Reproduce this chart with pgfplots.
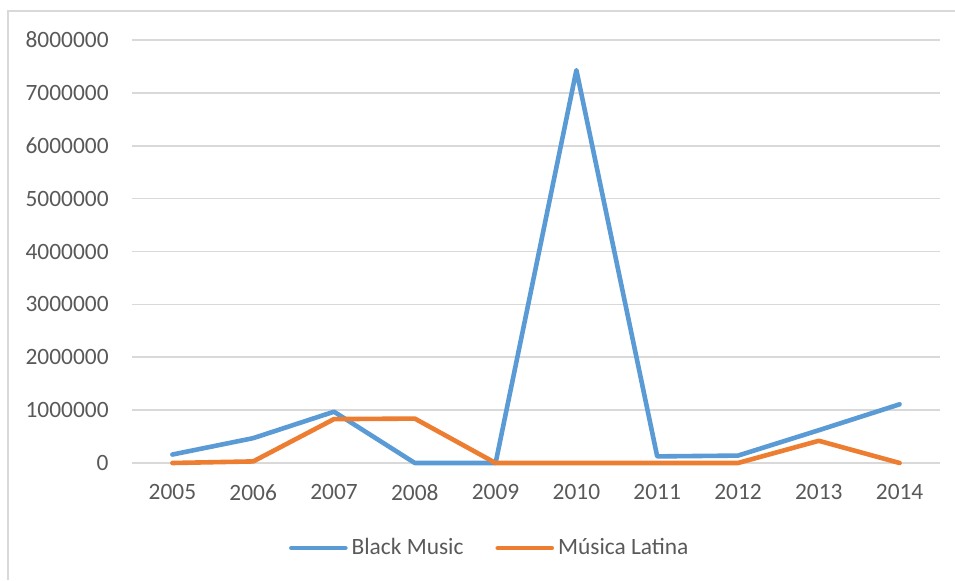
\documentclass[border=0pt]{standalone}
\usepackage{pgfplots}
\pgfplotsset{compat=1.18}
\usepackage{fontspec}
\setmainfont{Carlito}
\definecolor{bm}{HTML}{5B9BD5}
\definecolor{ml}{HTML}{ED7D31}
\definecolor{gridc}{HTML}{D9D9D9}
\definecolor{txt}{HTML}{595959}
\begin{document}
\begin{tikzpicture}
\useasboundingbox (-66pt,-58.5pt) rectangle (411.5pt,231.5pt);
\draw[gridc, line width=0.8pt] (-62pt,-58.5pt) -- (-62pt,226pt) -- (411.5pt,226pt);
\begin{axis}[
  at={(0,0)}, anchor=south west,
  scale only axis, width=404pt, height=211.5pt,
  xmin=-0.5, xmax=9.5, ymin=0, ymax=8000000,
  xtick={0,...,9},
  xticklabels={2005,2006,2007,2008,2009,2010,2011,2012,2013,2014},
  ytick={0,1000000,...,8000000},
  yticklabels={0,1000000,2000000,3000000,4000000,5000000,6000000,7000000,8000000},
  scaled y ticks=false,
  axis line style={draw=none},
  axis x line*=bottom,
  major tick length=0pt,
  ymajorgrids, grid style={gridc, line width=0.8pt},
  tick label style={font=\fontsize{11.7}{14}\selectfont, text=txt},
  yticklabel style={anchor=east, inner sep=0pt, xshift=-11.5pt},
  xticklabel style={anchor=north, inner sep=0pt, yshift=-10.5pt},
  legend style={at={(0.444,-0.201)}, anchor=center, draw=none, fill=none,
    legend columns=2, font=\fontsize{11.7}{14}\selectfont, text=txt,
    /tikz/every even column/.append style={column sep=14pt},
    inner sep=0pt},
  legend image code/.code={\draw[#1, line cap=round] (0pt,0pt) -- (27pt,0pt);},
  clip=false,
]
\draw[gridc, line width=0.8pt] (axis cs:-0.5,0) -- (axis cs:9.5,0);
\addplot[bm, line width=2.3pt, line join=round, line cap=round] coordinates {
 (0,160000) (1,470000) (2,970000) (3,0) (4,0) (5,7430000) (6,125000) (7,140000) (8,620000) (9,1110000)};
\addlegendentry{Black Music}
\addplot[ml, line width=2.3pt, line join=round, line cap=round] coordinates {
 (0,0) (1,30000) (2,830000) (3,840000) (4,0) (5,0) (6,0) (7,0) (8,420000) (9,0)};
\addlegendentry{Música Latina}
\end{axis}
\end{tikzpicture}
\end{document}
